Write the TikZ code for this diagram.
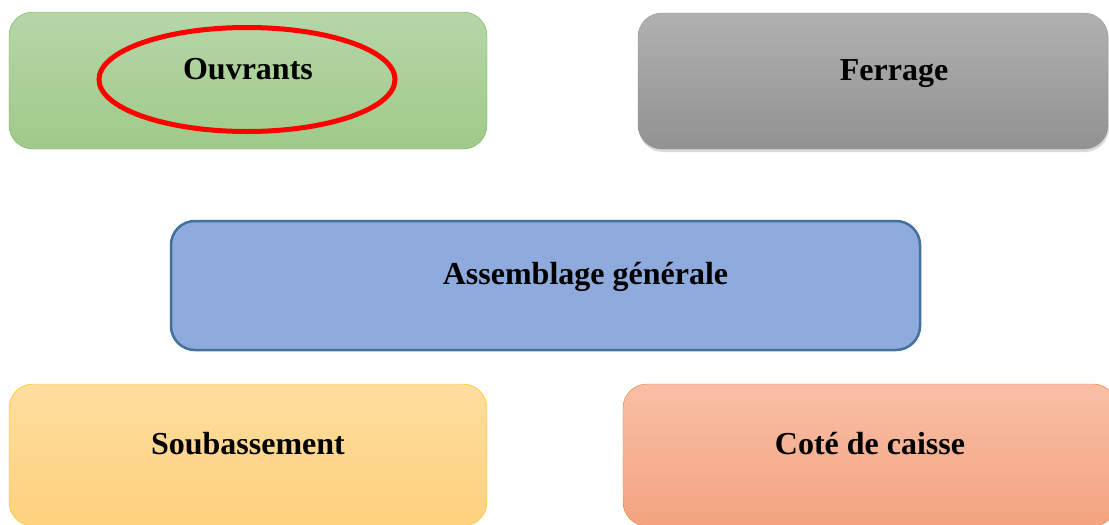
\documentclass[tikz,border=0pt]{standalone}
\usepackage{fontspec}
\setmainfont{Liberation Serif}
\usetikzlibrary{positioning, shapes.geometric, shadows}

\definecolor{ouvTop}{HTML}{B6D6A8}
\definecolor{ouvBot}{HTML}{9FCA89}
\definecolor{ouvLine}{HTML}{70AD47}
\definecolor{ferTop}{HTML}{B0B0B0}
\definecolor{ferBot}{HTML}{929292}
\definecolor{asmFill}{HTML}{8FAADC}
\definecolor{asmLine}{HTML}{41719C}
\definecolor{souTop}{HTML}{FEDD9E}
\definecolor{souBot}{HTML}{FED27D}
\definecolor{souLine}{HTML}{FFC000}
\definecolor{cotTop}{HTML}{F8BFA6}
\definecolor{cotBot}{HTML}{F4A37F}
\definecolor{cotLine}{HTML}{ED7D31}

\tikzset{
  block/.style={rectangle, rounded corners=24pt, inner sep=0pt,
    text height=20pt, text depth=22pt,
    font=\bfseries\fontsize{32}{38}\selectfont},
  ring/.style={ellipse, draw=red, line width=5pt, inner sep=0pt}
}

\begin{document}
\begin{tikzpicture}[x=1pt, y=-1pt]
  \useasboundingbox (0,0) rectangle (1109,525);
  \clip (0,0) rectangle (1109,525);
  % top row
  \node[block, draw=ouvLine, top color=ouvTop, bottom color=ouvBot,
        minimum width=478pt, minimum height=137pt] (ouvrants) at (248, 80.5) {Ouvrants};
  \node[ring, minimum width=296pt, minimum height=104pt] (ouvring) at (247, 79.5) {};
  \node[block, draw=ferBot, top color=ferTop, bottom color=ferBot,
        drop shadow={shadow xshift=1pt, shadow yshift=-3pt, opacity=0.3},
        minimum width=470pt, minimum height=136pt] (ferrage) at (873, 81) {\hspace*{42pt}Ferrage};
  % middle
  \node[block, draw=asmLine, line width=2.5pt, fill=asmFill,
        minimum width=749pt, minimum height=129pt] (assemblage) at (545.5, 285.5) {\hspace*{80pt}Assemblage générale};
  % bottom row
  \node[block, draw=souLine, top color=souTop, bottom color=souBot,
        minimum width=478pt, minimum height=142pt] (soubassement) at (248, 455) {Soubassement};
  \node[block, draw=cotLine, top color=cotTop, bottom color=cotBot,
        minimum width=494pt, minimum height=142pt] (caisse) at (870, 455) {Coté de caisse};
\end{tikzpicture}
\end{document}
